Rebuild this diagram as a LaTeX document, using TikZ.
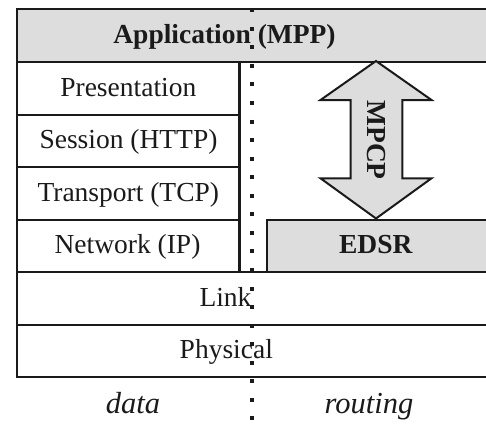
\documentclass[tikz,border=0pt]{standalone}
\usepackage{fontspec}
\setmainfont{Liberation Serif}
\definecolor{layergray}{RGB}{221,221,221}
\definecolor{ink}{RGB}{26,26,26}
\begin{document}
\begin{tikzpicture}[x=1pt,y=-1pt,
  box/.style={draw=ink, line width=2.4pt, rectangle, inner sep=0pt, anchor=north west},
  lbl/.style={font=\fontsize{27.5}{30}\selectfont, anchor=base, inner sep=0pt, text=ink},
  blbl/.style={lbl, font=\fontsize{27.5}{30}\selectfont\bfseries},
  ilbl/.style={lbl, font=\fontsize{30.5}{33}\selectfont\itshape},
  dotline/.style={draw=ink, line width=4pt, dash pattern=on 4pt off 14.55pt},
  bigarrow/.style={draw=ink, line width=2pt, fill=layergray, line join=miter}]
\useasboundingbox (0,0) rectangle (486,423);
\clip (0,0) rectangle (486,423);
% layers
\node[box, fill=layergray, minimum width=490, minimum height=53] (app) at (16,8) {};
\node[box, minimum width=222.3, minimum height=52.5] (pres) at (16,61) {};
\node[box, minimum width=222.3, minimum height=52.5] (sess) at (16,113.5) {};
\node[box, minimum width=222.3, minimum height=52.5] (trans) at (16,166) {};
\node[box, minimum width=222.3, minimum height=52.5] (net) at (16,218.5) {};
\node[box, fill=layergray, minimum width=260, minimum height=52.5] (edsr) at (265.7,218.5) {};
\node[box, minimum width=490, minimum height=52.5] (link) at (16,271) {};
\node[box, minimum width=490, minimum height=52.5] (phys) at (16,323.5) {};
% labels
\node[blbl] (appT) at (224.5,43.6) {Application (MPP)};
\node[lbl] (presT) at (128.3,96.3) {Presentation};
\node[lbl] (sessT) at (128.5,148.8) {Session (HTTP)};
\node[lbl] (transT) at (128.3,201.3) {Transport (TCP)};
\node[lbl] (netT) at (127.5,253.8) {Network (IP)};
\node[blbl] (edsrT) at (375.8,253.8) {EDSR};
\node[lbl] (linkT) at (225.5,306.3) {Link};
\node[lbl] (physT) at (226.3,358.8) {Physical};
\node[ilbl] (dataT) at (133,413.3) {data};
\node[ilbl] (routT) at (369,413.3) {routing};
% MPCP double arrow
\coordinate (tipT) at (376,61);
\coordinate (tipB) at (376,218.5);
\draw[bigarrow] (tipT) -- (431.5,100) -- (402.3,100) -- (402.3,178.3) -- (431.5,178.3)
  -- (tipB) -- (320.5,178.3) -- (350.7,178.3) -- (350.7,100) -- (320.5,100) -- cycle;
\node[blbl, rotate=-90, anchor=center] (mpcpT) at (376.5,140) {MPCP};
% divider
\coordinate (divT) at (252.3,8.25);
\coordinate (divB) at (252.3,423);
\draw[dotline] (divT) -- (divB);
\end{tikzpicture}
\end{document}
